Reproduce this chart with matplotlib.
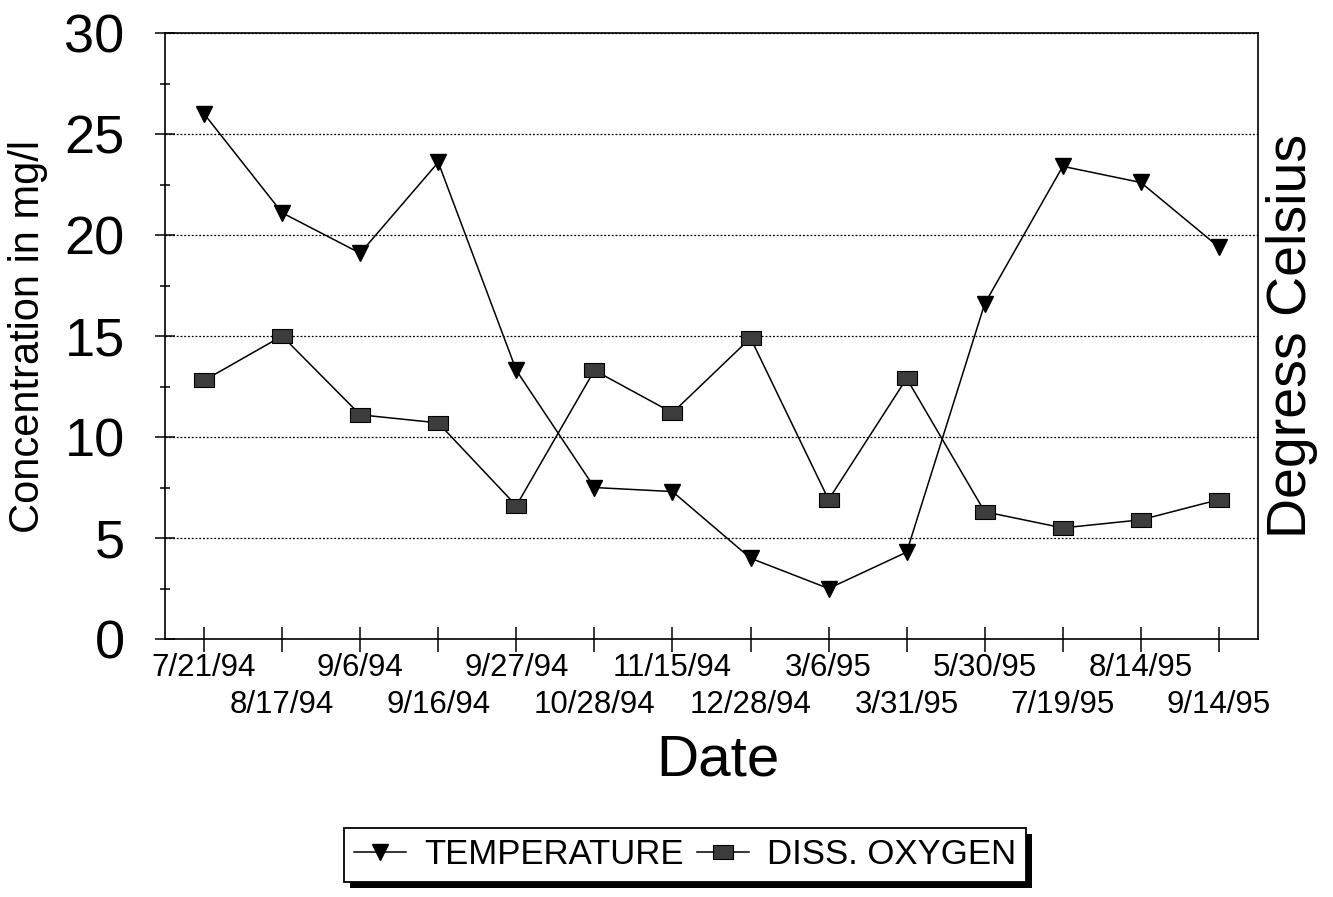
import numpy as np
import matplotlib.pyplot as plt
from matplotlib.patches import Rectangle

plt.rcParams['font.family'] = ['Liberation Sans', 'DejaVu Sans']

dates = ['7/21/94', '8/17/94', '9/6/94', '9/16/94', '9/27/94', '10/28/94', '11/15/94',
         '12/28/94', '3/6/95', '3/31/95', '5/30/95', '7/19/95', '8/14/95', '9/14/95']
temperature = [26.0, 21.1, 19.1, 23.6, 13.3, 7.5, 7.3, 4.0, 2.5, 4.3, 16.6, 23.4, 22.6, 19.4]
oxygen = [12.8, 15.0, 11.1, 10.7, 6.6, 13.3, 11.2, 14.9, 6.9, 12.9, 6.3, 5.5, 5.9, 6.9]
y_ticks = [0, 5, 10, 15, 20, 25, 30]

x = np.arange(len(dates))

# wide rectangle marker for the oxygen series
rect = [(-1.45, -1), (1.45, -1), (1.45, 1), (-1.45, 1), (-1.45, -1)]

fig = plt.figure(figsize=(13.33, 8.97), dpi=100)
ax = fig.add_axes([0.1238, 0.2876, 0.8199, 0.6756])

ax.plot(x, temperature, color='black', lw=1.1, marker='v', ms=12,
        mfc='black', mec='black', label='TEMPERATURE', zorder=3)
ax.plot(x, oxygen, color='black', lw=1.1, marker=rect, ms=15,
        mfc='#3c3c3c', mec='black', mew=0.8, label='DISS. OXYGEN', zorder=3)

ax.set_xlim(-0.5, len(dates) - 0.5)
ax.set_ylim(0, 30)

ax.set_yticks(y_ticks)
ax.set_yticks(np.arange(2.5, 30, 5), minor=True)
ax.tick_params(axis='y', which='major', direction='inout', length=14, width=1.1,
               labelsize=39, pad=22)
ax.tick_params(axis='y', which='minor', direction='inout', length=7, width=1.1)

ax.set_xticks(x[0::2])
ax.set_xticklabels(dates[0::2])
ax.set_xticks(x[1::2], minor=True)
ax.set_xticklabels(dates[1::2], minor=True)
ax.tick_params(axis='x', which='both', direction='inout', length=18, width=1.1,
               labelsize=22.5)
ax.tick_params(axis='x', which='major', pad=1)
ax.tick_params(axis='x', which='minor', pad=28)

ax.grid(axis='y', which='major', color='black', linestyle=(0, (1.5, 1.5)), lw=0.9)
for s in ax.spines.values():
    s.set_linewidth(1.2)

fig.text(0.021, 0.6254, 'Concentration in mg/l', rotation=90, fontsize=30,
         ha='center', va='center')
fig.text(0.969, 0.6254, 'Degress Celsius', rotation=90, fontsize=40,
         ha='center', va='center')
fig.text(0.5386, 0.136, 'Date', fontsize=42, ha='center', va='baseline')

leg = fig.legend(loc='center', bbox_to_anchor=(0.514, 0.047), ncol=2, fontsize=25,
                 frameon=True, fancybox=False, edgecolor='black', framealpha=1,
                 handlelength=1.5, handletextpad=0.5, columnspacing=0.4,
                 borderpad=0.3, markerscale=1.0)
leg.get_frame().set_linewidth(1.3)

# drop shadow under the legend box
fig.canvas.draw()
bb = leg.get_window_extent().transformed(fig.transFigure.inverted())
dx, dy = 6 / 1333, 6 / 897
fig.add_artist(Rectangle((bb.x0 + dx, bb.y0 - dy), bb.width, bb.height,
                         transform=fig.transFigure, facecolor='black',
                         edgecolor='none', zorder=4.5))

fig.savefig('out.png', dpi=100)
